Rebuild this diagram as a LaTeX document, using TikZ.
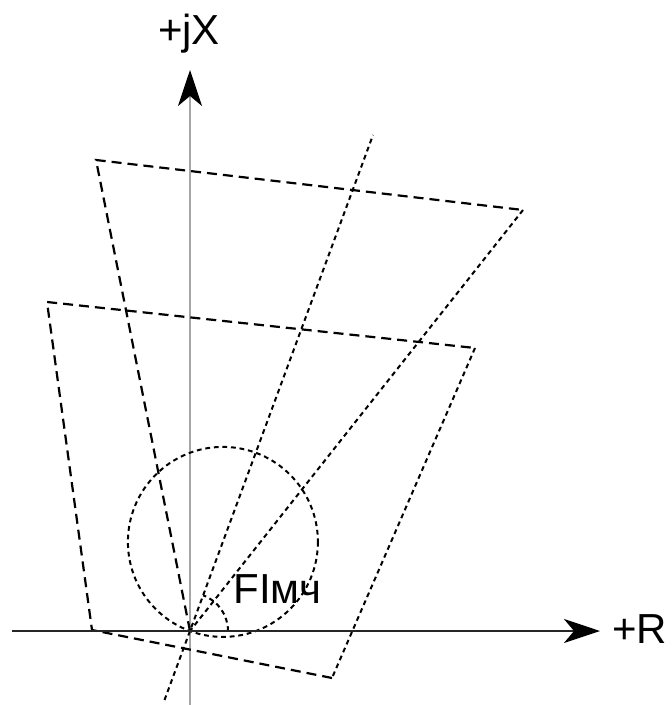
\documentclass[tikz,border=0pt]{standalone}
\usepackage{fontspec}
\setmainfont{Liberation Sans}
\usetikzlibrary{arrows.meta,calc}
\begin{document}
\begin{tikzpicture}[x=0.5pt,y=-0.5pt,
  longdash/.style={line width=1.1pt, dash pattern=on 5pt off 3pt},
  finedash/.style={line width=1pt, dash pattern=on 2.4pt off 1.9pt},
  lbl/.style={inner sep=0pt, font=\fontsize{21}{25}\selectfont},
  tip/.style={-{Stealth[length=18pt,width=12pt,inset=5pt,black]}}]
\useasboundingbox (0,0) rectangle (671,705);
% points
\coordinate (O) at (190,631);
\coordinate (A1) at (96,160);
\coordinate (B1) at (523,210);
\coordinate (A2) at (47,302);
\coordinate (B2) at (475,348);
\coordinate (C2) at (332,678);
\coordinate (D2) at (92,630);
\coordinate (Ltop) at (373,135);
\coordinate (Lbot) at (164.5,700);
\coordinate (C) at (222.9,541.9);
\coordinate (Ybot) at (190,705);
\coordinate (Ytop) at (190,70);
\coordinate (Xl) at (12,631);
\coordinate (Xr) at (600,631);
% vertical axis
\draw[tip, gray!70, line width=0.6pt] (Ybot) -- (Ytop);
% upper characteristic
\draw[longdash] (O) -- (A1) -- (B1);
\draw[finedash] (B1) -- (O);
% lower characteristic
\draw[longdash] (C2) -- (D2) -- (A2) -- (B2);
\draw[finedash] (B2) -- (C2);
% line of max sensitivity
\draw[finedash] (Lbot) -- (Ltop);
% circle
\draw[finedash] (C) circle[radius=95];
% angle arc
\draw[finedash] ($(O)+(38,0)$) arc[start angle=0, end angle=-69.75, radius=38];
% horizontal axis
\draw[tip, line width=1.4pt, black!85] (Xl) -- (Xr);
% labels
\node[lbl, anchor=base] (lx) at (189,45) {+jX};
\node[lbl, anchor=base west] (lr) at (612,643) {+R};
\node[lbl, anchor=base west] (lphi) at (233,603) {FIмч};
\end{tikzpicture}
\end{document}
